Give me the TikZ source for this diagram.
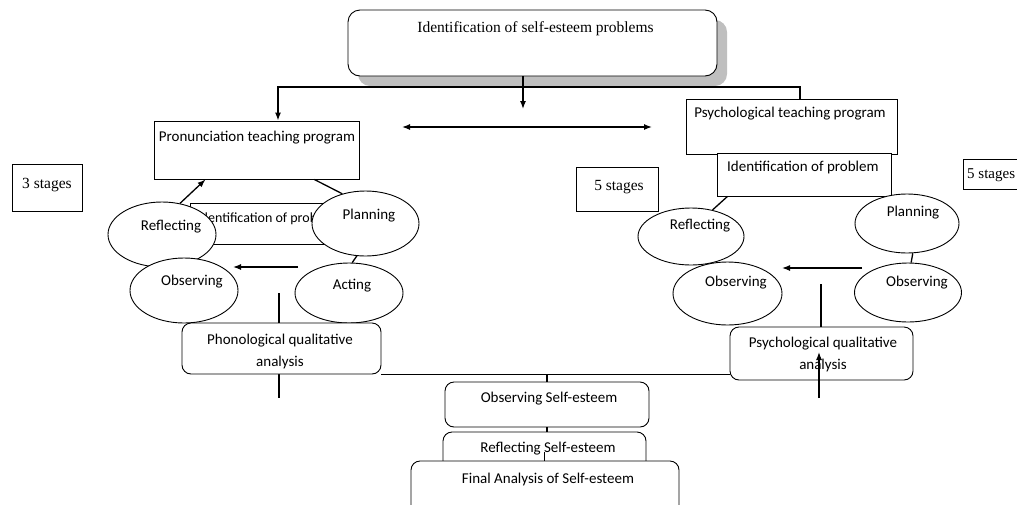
\documentclass[tikz,border=0pt]{standalone}
\usepackage{fontspec}
\setmainfont{Liberation Serif}
\newfontfamily\calibri{Carlito}
\usetikzlibrary{shapes.geometric,arrows.meta,shadows}

\begin{document}
\begin{tikzpicture}[x=1pt,y=1pt,
    box/.style={draw, rectangle, fill=white, inner sep=0pt, line width=0.9pt},
    rbox/.style={box, rounded corners=9pt},
    cyc/.style={draw, ellipse, fill=white, inner sep=0pt, line width=0.9pt},
    lbl/.style={inner sep=0pt, font=\calibri\fontsize{15}{22}\selectfont, align=center},
    slbl/.style={inner sep=0pt, font=\fontsize{15.5}{18}\selectfont},
    link/.style={line width=1.3pt},
    arr/.style={link, -{Latex[length=8pt,width=6pt]}},
    darr/.style={link, {Latex[length=8pt,width=6pt]}-{Latex[length=8pt,width=6pt]}}]
    \clip (0,0) rectangle (1017,-504);
    % top
    \node[rbox, rounded corners=12pt, minimum width=369, minimum height=66,
        drop shadow={shadow xshift=10pt, shadow yshift=-10pt, fill=black!25, opacity=1}] (tid) at (532.5,-43) {};
    \node[slbl] (tidt) at (535.5,-29) {Identification of self-esteem problems};
    \coordinate (tl) at (278,-87);
    \coordinate (tr) at (800,-87);
    \coordinate (tm) at (523,-109);
    \coordinate (dl) at (402,-127);
    \coordinate (dr) at (652,-127);
    \draw[arr] (tid.south -| tm) -- (tm);
    \draw[darr] (dl) -- (dr);
    % programs
    \node[box, minimum width=205, minimum height=58] (pron) at (256.5,-150) {};
    \node[lbl] (pront) at (257,-138) {Pronunciation teaching program};
    \node[box, minimum width=211, minimum height=55] (psych) at (791.5,-126.5) {};
    \node[lbl] (psycht) at (790,-114) {Psychological teaching program};
    \draw[arr] (tr |- psych.north) -- (tr) -- (tl) -- (tl |- pron.north);
    \node[box, minimum width=175, minimum height=41] (lid) at (277.5,-223.5) {};
    \node[lbl, anchor=west, font=\calibri\fontsize{14}{17}\selectfont] (lidt) at (197,-219) {Identification of problem};
    \node[box, minimum width=174, minimum height=43] (rid) at (804,-174.5) {};
    \node[lbl, anchor=west] (ridt) at (727,-167) {Identification of problem};
    % stages
    \node[box, minimum width=70, minimum height=47] (st3) at (47,-187.5) {};
    \node[slbl] (st3t) at (47,-185) {3 stages};
    \node[box, minimum width=82, minimum height=44] (st5l) at (617,-189) {};
    \node[slbl] (st5lt) at (619,-187) {5 stages};
    \node[box, minimum width=80, minimum height=30] (st5r) at (1003,-174) {};
    \node[slbl, anchor=west, font=\fontsize{15}{18}\selectfont] (st5rt) at (967,-175) {5 stages};
    % left cycle
    \node[cyc, minimum width=108, minimum height=65] (lrefl) at (162,-234.5) {};
    \node[lbl] (lreflt) at (171,-227) {Reflecting};
    \node[cyc, minimum width=107, minimum height=65] (lplan) at (365.5,-223.5) {};
    \node[lbl] (lplant) at (369,-216) {Planning};
    \node[cyc, minimum width=108, minimum height=65] (lobs) at (184,-290.5) {};
    \node[lbl] (lobst) at (192,-282) {Observing};
    \node[cyc, minimum width=108, minimum height=60] (lact) at (349,-293) {};
    \node[lbl] (lactt) at (352,-286) {Acting};
    \draw[arr] (lrefl.60) -- (pron.210);
    \draw[link] (pron.333) -- (lplan.128);
    \draw[link] (lplan.255) -- (lact.84);
    \coordinate (la1) at (298,-267);
    \coordinate (la2) at (233,-267);
    \draw[arr] (la1) -- (la2);
    % right cycle
    \node[cyc, minimum width=106, minimum height=57] (rrefl) at (691,-236.5) {};
    \node[lbl] (rreflt) at (700,-226) {Reflecting};
    \node[cyc, minimum width=104, minimum height=59] (rplan) at (907,-223.5) {};
    \node[lbl] (rplant) at (913,-213) {Planning};
    \node[cyc, minimum width=109, minimum height=63] (robsa) at (727.5,-293.5) {};
    \node[lbl] (robsat) at (736,-283) {Observing};
    \node[cyc, minimum width=107, minimum height=59] (robsb) at (908,-292.5) {};
    \node[lbl] (robsbt) at (917,-283) {Observing};
    \draw[link] (rrefl.51) -- (rid.196);
    \draw[link] (rplan.281) -- (robsb.84);
    \coordinate (ra1) at (862,-268);
    \coordinate (ra2) at (782,-268);
    \draw[arr] (ra1) -- (ra2);
    % analysis
    \coordinate (lv1) at (279,-293);
    \coordinate (lv2) at (279,-398);
    \draw[link] (lv1) -- (lv2);
    \node[rbox, minimum width=199, minimum height=51] (phon) at (281.5,-348.5) {};
    \node[lbl] (phont) at (280,-351) {Phonological qualitative\\analysis};
    \node[rbox, minimum width=183, minimum height=53] (psyq) at (821.5,-353.5) {};
    \node[lbl] (psyqt) at (823,-354) {Psychological qualitative\\analysis};
    \coordinate (rv1) at (821,-284);
    \draw[link] (rv1) -- (rv1 |- psyq.north);
    \draw[link] (phon.south east) -- (phon.south east -| psyq.west);
    \coordinate (ru1) at (819,-398);
    \coordinate (ru2) at (819,-352);
    \draw[arr] (ru1) -- (ru2);
    % self-esteem
    \node[rbox, minimum width=204, minimum height=45] (obsse) at (547,-404.5) {};
    \node[lbl] (obsset) at (549,-399) {Observing Self-esteem};
    \draw[link] (obsse.north |- phon.south east) -- (obsse.north);
    \node[rbox, minimum width=203, minimum height=40] (refse) at (544.5,-452) {};
    \node[lbl] (refset) at (548,-449) {Reflecting Self-esteem};
    \draw[link] (obsse.south) -- (obsse.south |- refse.north);
    \draw[link] (refse.center) -- (refse.south);
    \node[rbox, minimum width=268, minimum height=70] (final) at (545,-496) {};
    \node[lbl] (finalt) at (548,-479) {Final Analysis of Self-esteem};
\end{tikzpicture}
\end{document}
